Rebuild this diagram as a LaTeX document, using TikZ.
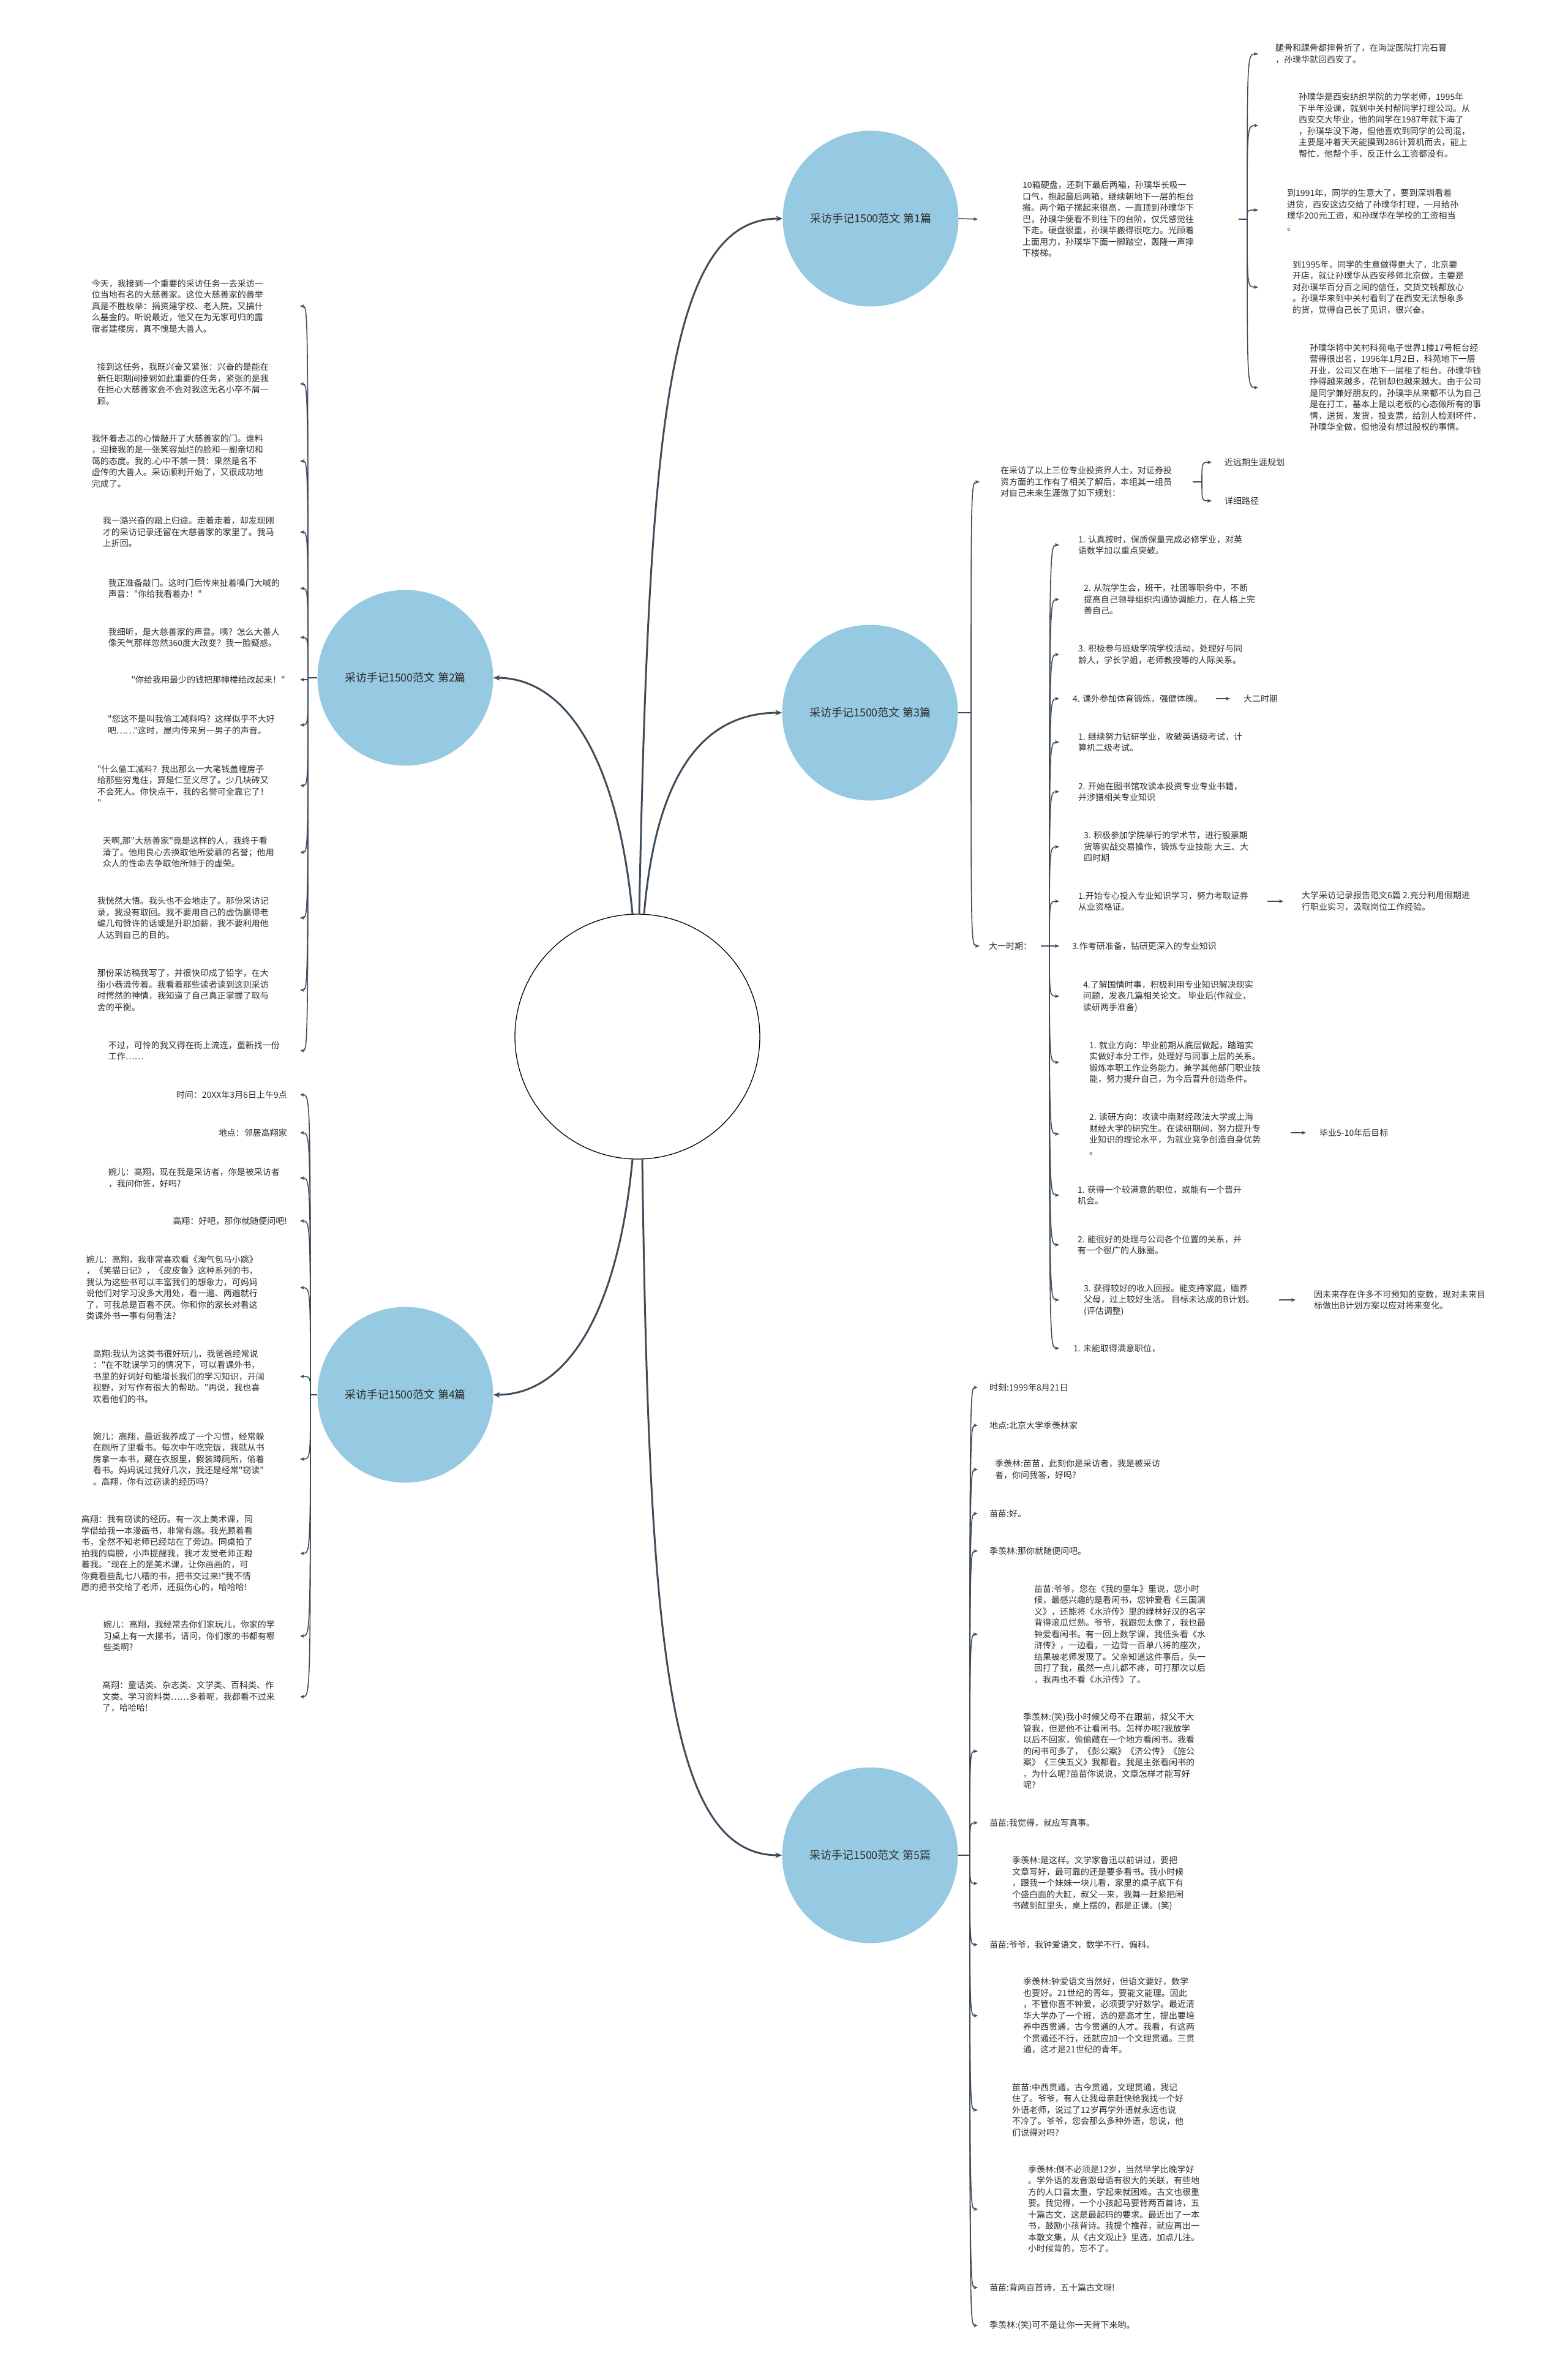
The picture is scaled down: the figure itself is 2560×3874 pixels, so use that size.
\documentclass[tikz,border=0pt]{standalone}
\usepackage{fontspec}
\newfontfamily\notocjk{Noto Sans CJK SC}
\usetikzlibrary{arrows.meta}

\begin{document}
\begin{tikzpicture}[x=1pt,y=-1pt,
	txt/.style={align=left,inner ysep=0pt,text=notec,font=\notocjk\fontsize{14}{18.5}\selectfont},
	txtr/.style={txt,anchor=west,inner xsep=#1},
	txtl/.style={txt,anchor=east,inner xsep=#1},
	topic/.style={circle,fill=topicc,minimum size=287pt,inner sep=0pt,text=notec,font=\notocjk\fontsize{18}{22}\selectfont},
	mainlink/.style={draw=linkc,line width=3pt,-{Stealth[length=11pt,width=9pt]}},
	twig/.style={draw=linkc,line width=1.6pt,-{Stealth[length=7pt,width=6pt]}},
	stem/.style={draw=linkc,line width=1.6pt}]
\definecolor{topicc}{RGB}{150,201,226}
\definecolor{linkc}{RGB}{62,76,90}
\definecolor{notec}{RGB}{45,45,45}

	\fill[white] (0,0) rectangle (2560,3874);
	\useasboundingbox (0,0) rectangle (2560,3874);

	% centre and the five topics
	\node[circle,draw=black,line width=1.3pt,fill=white,minimum size=400pt,inner sep=0pt] (root) at (1041,1693) {};
	\node[topic] (t1) at (1422,357) {采访手记1500范文 第1篇};
	\node[topic] (t2) at (662,1107) {采访手记1500范文 第2篇};
	\node[topic] (t3) at (1421,1164) {采访手记1500范文 第3篇};
	\node[topic] (t4) at (662,2278) {采访手记1500范文 第4篇};
	\node[topic] (t5) at (1421,3030) {采访手记1500范文 第5篇};

	\draw[mainlink] ([xshift=-8pt]root.north) .. controls (1010,1250) and (930,1107) .. (t2.east);
	\draw[mainlink] ([xshift=3pt]root.north) .. controls (1060,700) and (1090,357) .. (t1.west);
	\draw[mainlink] ([xshift=11pt]root.north) .. controls (1072,1260) and (1150,1164) .. (t3.west);
	\draw[mainlink] ([xshift=-8pt]root.south) .. controls (1010,2136) and (930,2278) .. (t4.east);
	\draw[mainlink] ([xshift=8pt]root.south) .. controls (1060,2686) and (1090,3030) .. (t5.west);

	% topic 1
	\node[txtr=73pt] (b1m) at (1597,358) {10箱硬盘，还剩下最后两箱，孙璞华长吸一\\口气，抱起最后两箱，继续朝地下一层的柜台\\搬。两个箱子摞起来很高，一直顶到孙璞华下\\巴，孙璞华便看不到往下的台阶，仅凭感觉往\\下走。硬盘很重，孙璞华搬得很吃力。光顾着\\上面用力，孙璞华下面一脚踏空，轰隆一声摔\\下楼梯。};
	\draw[twig] (t1.east) -- (b1m.west);
	\coordinate (b1h) at (2037,358);
	\draw[stem] (b1m.east) -- (b1h);

	\node[txtr=28pt] (c11) at (2055,88) {腿骨和踝骨都摔骨折了，在海淀医院打完石膏\\，孙璞华就回西安了。};
	\node[txtr=66pt] (c12) at (2055,205) {孙璞华是西安纺织学院的力学老师，1995年\\下半年没课，就到中关村帮同学打理公司。从\\西安交大毕业，他的同学在1987年就下海了\\，孙璞华没下海，但他喜欢到同学的公司混，\\主要是冲着天天能摸到286计算机而去，能上\\帮忙，他帮个手，反正什么工资都没有。};
	\node[txtr=47pt] (c13) at (2055,343) {到1991年，同学的生意大了，要到深圳看着\\进货，西安这边交给了孙璞华打理，一月给孙\\璞华200元工资，和孙璞华在学校的工资相当\\。};
	\node[txtr=56pt] (c14) at (2055,469) {到1995年，同学的生意做得更大了，北京要\\开店，就让孙璞华从西安移师北京做，主要是\\对孙璞华百分百之间的信任，交货交钱都放心\\。孙璞华来到中关村看到了在西安无法想象多\\的货，觉得自己长了见识，很兴奋。};
	\node[txtr=84pt] (c15) at (2055,633) {孙璞华将中关村科苑电子世界1楼17号柜台经\\营得很出名，1996年1月2日，科苑地下一层\\开业，公司又在地下一层租了柜台。孙璞华钱\\挣得越来越多，花销却也越来越大。由于公司\\是同学兼好朋友的，孙璞华从来都不认为自己\\是在打工，基本上是以老板的心态做所有的事\\情，送货，发货，投支票，给别人检测坏件，\\孙璞华全做，但他没有想过股权的事情。};

	\draw[twig] (b1h) .. controls (b1h |- c11) .. (c11.west);
	\draw[twig] (b1h) .. controls (b1h |- c12) .. (c12.west);
	\draw[twig] (b1h) .. controls (b1h |- c13) .. (c13.west);
	\draw[twig] (b1h) .. controls (b1h |- c14) .. (c14.west);
	\draw[twig] (b1h) .. controls (b1h |- c15) .. (c15.west);

	% topic 2
	\coordinate (b2h) at (503,1107);
	\draw[stem] (t2.west) -- (b2h);

	\node[txtl=60pt] (c21) at (490,500) {今天，我接到一个重要的采访任务一去采访一\\位当地有名的大慈善家。这位大慈善家的善举\\真是不胜枚举：捐资建学校、老人院，又搞什\\么基金的。听说最近，他又在为无家可归的露\\宿者建楼房，真不愧是大善人。};
	\node[txtl=51pt] (c22) at (490,627) {接到这任务，我既兴奋又紧张：兴奋的是能在\\新任职期间接到如此重要的任务，紧张的是我\\在担心大慈善家会不会对我这无名小卒不屑一\\顾。};
	\node[txtl=60pt] (c23) at (490,753) {我怀着忐忑的心情敲开了大慈善家的门。谁料\\，迎接我的是一张笑容灿烂的脸和一副亲切和\\蔼的态度。我的.心中不禁一赞：果然是名不\\虚传的大善人。采访顺利开始了，又很成功地\\完成了。};
	\node[txtl=42pt] (c24) at (490,869) {我一路兴奋的踏上归途。走着走着，却发现刚\\才的采访记录还留在大慈善家的家里了。我马\\上折回。};
	\node[txtl=33pt] (c25) at (490,961) {我正准备敲门。这时门后传来扯着嗓门大喊的\\声音："你给我看着办！"};
	\node[txtl=33pt] (c26) at (490,1041) {我细听，是大慈善家的声音。咦？怎么大善人\\像天气那样忽然360度大改变？我一脸疑惑。};
	\node[txtl=24pt] (c27) at (490,1110) {"你给我用最少的钱把那幢楼给改起来！"};
	\node[txtl=41pt] (c28) at (490,1184) {"您这不是叫我偷工减料吗？这样似乎不大好\\吧……"这时，屋内传来另一男子的声音。};
	\node[txtl=51pt] (c29) at (490,1283) {"什么偷工减料？我出那么一大笔钱盖幢房子\\给那些穷鬼住，算是仁至义尽了。少几块砖又\\不会死人。你快点干，我的名誉可全靠它了！\\"};
	\node[txtl=42pt] (c210) at (490,1392) {天啊,那"大慈善家"竟是这样的人，我终于看\\清了。他用良心去换取他所爱慕的名誉；他用\\众人的性命去争取他所倾于的虚荣。};
	\node[txtl=51pt] (c211) at (490,1499) {我恍然大悟。我头也不会地走了。那份采访记\\录，我没有取回。我不要用自己的虚伪赢得老\\编几句赞许的话或是升职加薪，我不要利用他\\人达到自己的目的。};
	\node[txtl=51pt] (c212) at (490,1617) {那份采访稿我写了，并很快印成了铅字，在大\\街小巷流传着。我看着那些读者读到这则采访\\时愕然的神情，我知道了自己真正掌握了取与\\舍的平衡。};
	\node[txtl=33pt] (c213) at (490,1716) {不过，可怜的我又得在街上流连，重新找一份\\工作……};

	\draw[twig] (b2h) .. controls (b2h |- c21) .. (c21.east);
	\draw[twig] (b2h) .. controls (b2h |- c22) .. (c22.east);
	\draw[twig] (b2h) .. controls (b2h |- c23) .. (c23.east);
	\draw[twig] (b2h) .. controls (b2h |- c24) .. (c24.east);
	\draw[twig] (b2h) .. controls (b2h |- c25) .. (c25.east);
	\draw[twig] (b2h) .. controls (b2h |- c26) .. (c26.east);
	\draw[twig] (b2h) .. controls (b2h |- c27) .. (c27.east);
	\draw[twig] (b2h) .. controls (b2h |- c28) .. (c28.east);
	\draw[twig] (b2h) .. controls (b2h |- c29) .. (c29.east);
	\draw[twig] (b2h) .. controls (b2h |- c210) .. (c210.east);
	\draw[twig] (b2h) .. controls (b2h |- c211) .. (c211.east);
	\draw[twig] (b2h) .. controls (b2h |- c212) .. (c212.east);
	\draw[twig] (b2h) .. controls (b2h |- c213) .. (c213.east);

	% topic 3
	\coordinate (b3h) at (1586,1164);
	\draw[stem] (t3.east) -- (b3h);

	\node[txtr=34pt] (c31) at (1600,787) {在采访了以上三位专业投资界人士，对证券投\\资方面的工作有了相关了解后，本组其一组员\\对自己未来生涯做了如下规划：};
	\node[txtr=15pt] (dayi) at (1600,1545) {大一时期：};
	\draw[twig] (b3h) .. controls (b3h |- c31) .. (c31.west);
	\draw[twig] (b3h) .. controls (b3h |- dayi) .. (dayi.west);

	\coordinate (c31h) at (1963,787);
	\draw[stem] (c31.east) -- (c31h);
	\node[txtr=21pt] (near) at (1979,755) {近远期生涯规划};
	\node[txtr=21pt] (path) at (1979,818) {详细路径};
	\draw[twig] (c31h) .. controls (c31h |- near) .. (near.west);
	\draw[twig] (c31h) .. controls (c31h |- path) .. (path.west);

	\coordinate (dh) at (1714,1545);
	\draw[stem] (dayi.east) -- (dh);

	\node[txtr=31pt] (d1) at (1730,890) {1. 认真按时，保质保量完成必修学业，对英\\语数学加以重点突破。};
	\node[txtr=40pt] (d2) at (1730,979) {2. 从院学生会，班干，社团等职务中，不断\\提高自己领导组织沟通协调能力，在人格上完\\善自己。};
	\node[txtr=31pt] (d3) at (1730,1069) {3. 积极参与班级学院学校活动，处理好与同\\龄人，学长学姐，老师教授等的人际关系。};
	\node[txtr=22pt] (d4) at (1730,1141) {4. 课外参加体育锻炼，强健体魄。};
	\node[txtr=31pt] (d5) at (1730,1212) {1. 继续努力钻研学业，攻破英语级考试，计\\算机二级考试。};
	\node[txtr=31pt] (d6) at (1730,1293) {2. 开始在图书馆攻读本投资专业专业书籍，\\并涉猎相关专业知识};
	\node[txtr=40pt] (d7) at (1730,1383) {3. 积极参加学院举行的学术节，进行股票期\\货等实战交易操作，锻炼专业技能 大三、大\\四时期};
	\node[txtr=31pt] (d8) at (1730,1472) {1.开始专心投入专业知识学习，努力考取证券\\从业资格证。};
	\node[txtr=21pt] (d9) at (1730,1545) {3.作考研准备，钻研更深入的专业知识};
	\node[txtr=39pt] (d10) at (1730,1627) {4.了解国情时事，积极利用专业知识解决现实\\问题，发表几篇相关论文。 毕业后(作就业，\\读研两手准备)};
	\node[txtr=49pt] (d11) at (1730,1735) {1. 就业方向：毕业前期从底层做起，踏踏实\\实做好本分工作，处理好与同事上层的关系。\\锻炼本职工作业务能力，兼学其他部门职业技\\能，努力提升自己，为今后晋升创造条件。};
	\node[txtr=49pt] (d12) at (1730,1852) {2. 读研方向：攻读中南财经政法大学或上海\\财经大学的研究生。在读研期间，努力提升专\\业知识的理论水平，为就业竞争创造自身优势\\。};
	\node[txtr=30pt] (d13) at (1730,1952) {1. 获得一个较满意的职位，或能有一个晋升\\机会。};
	\node[txtr=30pt] (d14) at (1730,2033) {2. 能很好的处理与公司各个位置的关系，并\\有一个很广的人脉圈。};
	\node[txtr=40pt] (d15) at (1730,2123) {3. 获得较好的收入回报。能支持家庭，赡养\\父母，过上较好生活。 目标未达成的B计划。\\(评估调整)};
	\node[txtr=23pt] (d16) at (1730,2202) {1. 未能取得满意职位，};

	\draw[twig] (dh) .. controls (dh |- d1) .. (d1.west);
	\draw[twig] (dh) .. controls (dh |- d2) .. (d2.west);
	\draw[twig] (dh) .. controls (dh |- d3) .. (d3.west);
	\draw[twig] (dh) .. controls (dh |- d4) .. (d4.west);
	\draw[twig] (dh) .. controls (dh |- d5) .. (d5.west);
	\draw[twig] (dh) .. controls (dh |- d6) .. (d6.west);
	\draw[twig] (dh) .. controls (dh |- d7) .. (d7.west);
	\draw[twig] (dh) .. controls (dh |- d8) .. (d8.west);
	\draw[twig] (dh) -- (d9.west);
	\draw[twig] (dh) .. controls (dh |- d10) .. (d10.west);
	\draw[twig] (dh) .. controls (dh |- d11) .. (d11.west);
	\draw[twig] (dh) .. controls (dh |- d12) .. (d12.west);
	\draw[twig] (dh) .. controls (dh |- d13) .. (d13.west);
	\draw[twig] (dh) .. controls (dh |- d14) .. (d14.west);
	\draw[twig] (dh) .. controls (dh |- d15) .. (d15.west);
	\draw[twig] (dh) .. controls (dh |- d16) .. (d16.west);

	\node[txtr=22pt] (r4) at (2009,1141) {大二时期};
	\node[txtr=30pt] (r8) at (2096,1472) {大学采访记录报告范文6篇 2.充分利用假期进\\行职业实习，汲取岗位工作经验。};
	\node[txtr=22pt] (r12) at (2133,1850) {毕业5-10年后目标};
	\node[txtr=30pt] (r15) at (2116,2123) {因未来存在许多不可预知的变数，现对未来目\\标做出B计划方案以应对将来变化。};
	\draw[twig] (d4.east) -- (r4.west);
	\draw[twig] (d8.east) -- (r8.west);
	\draw[twig] (d12.east |- r12) -- (r12.west);
	\draw[twig] (d15.east) -- (r15.west);

	% topic 4
	\coordinate (b4h) at (507,2278);
	\draw[stem] (t4.west) -- (b4h);

	\node[txtl=21pt] (c41) at (490,1788) {时间：20XX年3月6日上午9点};
	\node[txtl=21pt] (c42) at (490,1850) {地点：邻居高翔家};
	\node[txtl=33pt] (c43) at (490,1924) {婉儿：高翔，现在我是采访者，你是被采访者\\，我问你答，好吗?};
	\node[txtl=21pt] (c44) at (490,1994) {高翔：好吧，那你就随便问吧!};
	\node[txtl=69pt] (c45) at (490,2103) {婉儿：高翔，我非常喜欢看《淘气包马小跳》\\，《笑猫日记》，《皮皮鲁》这种系列的书，\\我认为这些书可以丰富我们的想象力，可妈妈\\说他们对学习没多大用处，看一遍、两遍就行\\了，可我总是百看不厌。你和你的家长对看这\\类课外书一事有何看法?};
	\node[txtl=58pt] (c46) at (490,2248) {高翔:我认为这类书很好玩儿，我爸爸经常说\\："在不耽误学习的情况下，可以看课外书，\\书里的好词好句能增长我们的学习知识，开阔\\视野，对写作有很大的帮助。"再说，我也喜\\欢看他们的书。};
	\node[txtl=58pt] (c47) at (490,2383) {婉儿：高翔，最近我养成了一个习惯，经常躲\\在厕所了里看书。每次中午吃完饭，我就从书\\房拿一本书，藏在衣服里，假装蹲厕所，偷着\\看书。妈妈说过我好几次，我还是经常"窃读"\\。高翔，你有过窃读的经历吗?};
	\node[txtl=77pt] (c48) at (490,2537) {高翔：我有窃读的经历。有一次上美术课，同\\学借给我一本漫画书，非常有趣。我光顾着看\\书，全然不知老师已经站在了旁边。同桌拍了\\拍我的肩膀，小声提醒我，我才发觉老师正瞪\\着我。"现在上的是美术课，让你画画的，可\\你竟看些乱七八糟的书，把书交过来!"我不情\\愿的把书交给了老师，还挺伤心的，哈哈哈!};
	\node[txtl=41pt] (c49) at (490,2672) {婉儿：高翔，我经常去你们家玩儿，你家的学\\习桌上有一大摞书，请问，你们家的书都有哪\\些类啊?};
	\node[txtl=41pt] (c410) at (490,2771) {高翔：童话类、杂志类、文学类、百科类、作\\文类、学习资料类……多着呢，我都看不过来\\了，哈哈哈!};

	\draw[twig] (b4h) .. controls (b4h |- c41) .. (c41.east);
	\draw[twig] (b4h) .. controls (b4h |- c42) .. (c42.east);
	\draw[twig] (b4h) .. controls (b4h |- c43) .. (c43.east);
	\draw[twig] (b4h) .. controls (b4h |- c44) .. (c44.east);
	\draw[twig] (b4h) .. controls (b4h |- c45) .. (c45.east);
	\draw[twig] (b4h) .. controls (b4h |- c46) .. (c46.east);
	\draw[twig] (b4h) .. controls (b4h |- c47) .. (c47.east);
	\draw[twig] (b4h) .. controls (b4h |- c48) .. (c48.east);
	\draw[twig] (b4h) .. controls (b4h |- c49) .. (c49.east);
	\draw[twig] (b4h) .. controls (b4h |- c410) .. (c410.east);

	% topic 5
	\coordinate (b5h) at (1584,3030);
	\draw[stem] (t5.east) -- (b5h);

	\node[txtr=19pt] (e1) at (1597,2266) {时刻:1999年8月21日};
	\node[txtr=19pt] (e2) at (1597,2328) {地点:北京大学季羡林家};
	\node[txtr=28pt] (e3) at (1597,2400) {季羡林:苗苗，此刻你是采访者，我是被采访\\者，你问我答，好吗?};
	\node[txtr=19pt] (e4) at (1597,2472) {苗苗:好。};
	\node[txtr=19pt] (e5) at (1597,2533) {季羡林:那你就随便问吧。};
	\node[txtr=92pt] (e6) at (1597,2669) {苗苗:爷爷，您在《我的童年》里说，您小时\\候，最感兴趣的是看闲书，您钟爱看《三国演\\义》，还能将《水浒传》里的绿林好汉的名字\\背得滚瓜烂熟。爷爷，我跟您太像了，我也最\\钟爱看闲书。有一回上数学课，我低头看《水\\浒传》，一边看，一边背一百单八将的座次，\\结果被老师发现了。父亲知道这件事后，头一\\回打了我，虽然一点儿都不疼，可打那次以后\\，我再也不看《水浒传》了。};
	\node[txtr=74pt] (e7) at (1597,2860) {季羡林:(笑)我小时候父母不在跟前，叔父不大\\管我，但是他不让看闲书。怎样办呢?我放学\\以后不回家，偷偷藏在一个地方看闲书。我看\\的闲书可多了，《彭公案》《济公传》《施公\\案》《三侠五义》我都看。我是主张看闲书的\\，为什么呢?苗苗你说说，文章怎样才能写好\\呢?};
	\node[txtr=19pt] (e8) at (1597,2977) {苗苗:我觉得，就应写真事。};
	\node[txtr=56pt] (e9) at (1597,3076) {季羡林:是这样。文学家鲁迅以前讲过，要把\\文章写好，最可靠的还是要多看书。我小时候\\，跟我一个妹妹一块儿看，家里的桌子底下有\\个盛白面的大缸，叔父一来，我舞一赶紧把闲\\书藏到缸里头，桌上摆的，都是正课。(笑)};
	\node[txtr=19pt] (e10) at (1597,3176) {苗苗:爷爷，我钟爱语文，数学不行，偏科。};
	\node[txtr=74pt] (e11) at (1597,3292) {季羡林:钟爱语文当然好，但语文要好，数学\\也要好。21世纪的青年，要能文能理。因此\\，不管你喜不钟爱，必须要学好数学。最近清\\华大学办了一个班，选的是高才生，提出要培\\养中西贯通，古今贯通的人才。我看，有这两\\个贯通还不行，还就应加一个文理贯通。三贯\\通，这才是21世纪的青年。};
	\node[txtr=56pt] (e12) at (1597,3446) {苗苗:中西贯通，古今贯通，文理贯通，我记\\住了。爷爷，有人让我母亲赶快给我找一个好\\外语老师，说过了12岁再学外语就永远也说\\不冷了。爷爷，您会那么多种外语，您说，他\\们说得对吗?};
	\node[txtr=82pt] (e13) at (1597,3608) {季羡林:倒不必须是12岁，当然早学比晚学好\\。学外语的发音跟母语有很大的关联，有些地\\方的人口音太重，学起来就困难。古文也很重\\要。我觉得，一个小孩起马要背两百首诗，五\\十篇古文，这是最起码的要求。最近出了一本\\书，鼓励小孩背诗。我提个推荐，就应再出一\\本散文集，从《古文观止》里选，加点儿注。\\小时候背的，忘不了。};
	\node[txtr=19pt] (e14) at (1597,3736) {苗苗:背两百首诗，五十篇古文呀!};
	\node[txtr=19pt] (e15) at (1597,3798) {季羡林:(笑)可不是让你一天背下来哟。};

	\draw[twig] (b5h) .. controls (b5h |- e1) .. (e1.west);
	\draw[twig] (b5h) .. controls (b5h |- e2) .. (e2.west);
	\draw[twig] (b5h) .. controls (b5h |- e3) .. (e3.west);
	\draw[twig] (b5h) .. controls (b5h |- e4) .. (e4.west);
	\draw[twig] (b5h) .. controls (b5h |- e5) .. (e5.west);
	\draw[twig] (b5h) .. controls (b5h |- e6) .. (e6.west);
	\draw[twig] (b5h) .. controls (b5h |- e7) .. (e7.west);
	\draw[twig] (b5h) .. controls (b5h |- e8) .. (e8.west);
	\draw[twig] (b5h) .. controls (b5h |- e9) .. (e9.west);
	\draw[twig] (b5h) .. controls (b5h |- e10) .. (e10.west);
	\draw[twig] (b5h) .. controls (b5h |- e11) .. (e11.west);
	\draw[twig] (b5h) .. controls (b5h |- e12) .. (e12.west);
	\draw[twig] (b5h) .. controls (b5h |- e13) .. (e13.west);
	\draw[twig] (b5h) .. controls (b5h |- e14) .. (e14.west);
	\draw[twig] (b5h) .. controls (b5h |- e15) .. (e15.west);

\end{tikzpicture}
\end{document}
